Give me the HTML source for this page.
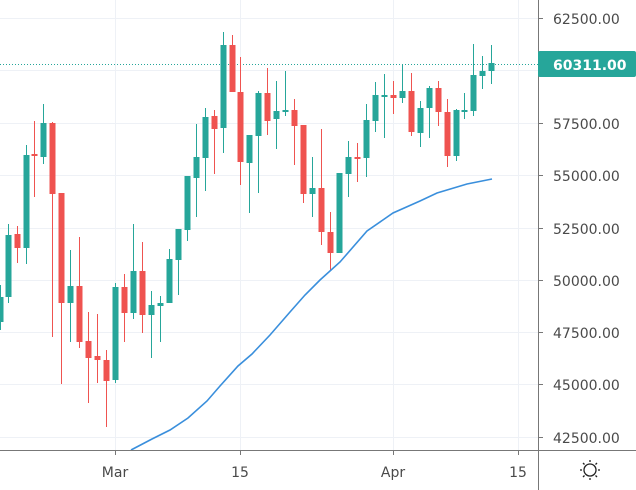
<!DOCTYPE html>
<html><head><meta charset="utf-8"><style>
html,body{margin:0;padding:0;background:#fff;}
svg{display:block;}
text{font-family:"DejaVu Sans","Liberation Sans",sans-serif;font-size:14px;fill:#4a4a4a;}
</style></head><body>
<svg width="636" height="490" viewBox="0 0 636 490" xmlns="http://www.w3.org/2000/svg">
<g stroke="#eef1f6" stroke-width="1">
<line x1="0" y1="18.5" x2="538" y2="18.5"/>
<line x1="0" y1="70.5" x2="538" y2="70.5"/>
<line x1="0" y1="123.5" x2="538" y2="123.5"/>
<line x1="0" y1="175.5" x2="538" y2="175.5"/>
<line x1="0" y1="228.5" x2="538" y2="228.5"/>
<line x1="0" y1="280.5" x2="538" y2="280.5"/>
<line x1="0" y1="332.5" x2="538" y2="332.5"/>
<line x1="0" y1="384.5" x2="538" y2="384.5"/>
<line x1="0" y1="437.5" x2="538" y2="437.5"/>
<line x1="115.5" y1="0" x2="115.5" y2="450"/>
<line x1="240.5" y1="0" x2="240.5" y2="450"/>
<line x1="393.5" y1="0" x2="393.5" y2="450"/>
<line x1="518.5" y1="0" x2="518.5" y2="450"/>
</g>
<line x1="0" y1="64.5" x2="538" y2="64.5" stroke="#26a69a" stroke-width="1" stroke-dasharray="1,2"/>
<g id="c"></g>
<polyline fill="none" stroke="#3a8fdc" stroke-width="1.6" points="131,450 152,439 170,430 188,418 207,401 220,386 238,366 252,354 270,335 290,312 305,295 320,280 340,262 367,231 393,213 420,201 437,193 467,184 492,179"/>
<line x1="538.5" y1="0" x2="538.5" y2="490" stroke="#777" stroke-width="1"/>
<line x1="0" y1="450.5" x2="636" y2="450.5" stroke="#777" stroke-width="1"/>
<g stroke="#777">
<line x1="538" y1="18.5" x2="543" y2="18.5"/><line x1="538" y1="123.5" x2="543" y2="123.5"/>
<line x1="538" y1="175.5" x2="543" y2="175.5"/><line x1="538" y1="228.5" x2="543" y2="228.5"/>
<line x1="538" y1="280.5" x2="543" y2="280.5"/><line x1="538" y1="332.5" x2="543" y2="332.5"/>
<line x1="538" y1="384.5" x2="543" y2="384.5"/><line x1="538" y1="437.5" x2="543" y2="437.5"/>
<line x1="115.5" y1="450" x2="115.5" y2="455"/><line x1="240.5" y1="450" x2="240.5" y2="455"/>
<line x1="393.5" y1="450" x2="393.5" y2="455"/><line x1="518.5" y1="450" x2="518.5" y2="455"/>
</g>
<g>
<text x="553" y="24">62500.00</text>
<text x="553" y="129">57500.00</text>
<text x="553" y="181">55000.00</text>
<text x="553" y="234">52500.00</text>
<text x="553" y="286">50000.00</text>
<text x="553" y="338">47500.00</text>
<text x="553" y="390">45000.00</text>
<text x="553" y="443">42500.00</text>
</g>
<rect x="538" y="51" width="98" height="26" rx="2" fill="#26a69a"/>
<text x="553" y="70" style="fill:#fff;font-weight:bold">60311.00</text>
<g text-anchor="middle">
<text x="115" y="477">Mar</text>
<text x="240" y="477">15</text>
<text x="393" y="477">Apr</text>
<text x="518" y="477">15</text>
</g>
<g stroke="#222" stroke-width="1.3" fill="none">
<circle cx="590" cy="470" r="6"/>
<line x1="590" y1="460" x2="590" y2="462"/><line x1="590" y1="478" x2="590" y2="480"/>
<line x1="580" y1="470" x2="582" y2="470"/><line x1="598" y1="470" x2="600" y2="470"/>
<line x1="583" y1="463" x2="584.5" y2="464.5"/><line x1="597" y1="463" x2="595.5" y2="464.5"/>
<line x1="583" y1="477" x2="584.5" y2="475.5"/><line x1="597" y1="477" x2="595.5" y2="475.5"/>
</g>
</svg>
<script>
var d=[
[0,297,322,285,330,'g'],[8,235,297,224,303,'g'],[17,234,248,226,263,'r'],[26,155,248,145,264,'g'],
[34,154,156,121,197,'r'],[43,123,157,104,164,'g'],[52,123,194,122,337,'r'],[61,193,303,193,384,'r'],
[70,286,303,250,342,'g'],[79,286,342,237,348,'r'],[88,341,358,312,403,'r'],[97,356,360,314,383,'r'],
[106,360,381,350,427,'r'],[115,287,380,283,383,'g'],[124,287,313,274,342,'r'],[133,271,313,224,319,'g'],
[142,271,315,242,333,'r'],[151,305,315,291,358,'g'],[160,303,306,296,342,'g'],[169,259,303,249,303,'g'],
[178,229,260,229,295,'g'],[187,176,230,176,241,'g'],[196,157,178,124,217,'g'],[205,117,158,108,191,'g'],
[214,116,129,110,174,'r'],[223,45,128,32,153,'g'],[232,45,92,35,92,'r'],[240,92,162,57,185,'r'],
[249,135,163,135,213,'g'],[258,93,136,91,193,'g'],[267,93,121,68,135,'r'],[276,111,119,81,149,'g'],
[285,110,112,71,116,'g'],[294,110,126,99,165,'r'],[303,125,194,125,203,'r'],[312,188,194,157,217,'g'],
[321,188,232,129,245,'r'],[330,232,253,212,271,'r'],[339,173,253,173,253,'g'],[348,157,174,141,197,'g'],
[357,157,159,143,182,'r'],[366,120,158,104,177,'g'],[375,95,121,82,132,'g'],[384,95,97,74,138,'g'],
[393,95,98,81,114,'r'],[402,91,98,65,103,'g'],[411,91,132,73,136,'r'],[420,108,133,101,147,'g'],
[429,88,108,86,138,'g'],[438,88,112,81,126,'r'],[447,112,156,99,167,'r'],[456,110,156,109,161,'g'],
[464,110,111,93,119,'g'],[473,75,111,44,116,'g'],[482,71,76,56,89,'g'],[491,63,71,45,84,'g']];
var s='';
d.forEach(function(c){var col=c[5]=='g'?'#26a69a':'#ef5350';
s+='<line x1="'+(c[0]+.5)+'" y1="'+c[3]+'" x2="'+(c[0]+.5)+'" y2="'+c[4]+'" stroke="'+col+'" stroke-width="1"/>';
s+='<rect x="'+(c[0]-2.5)+'" y="'+c[1]+'" width="6" height="'+Math.max(2,c[2]-c[1])+'" fill="'+col+'"/>';});
document.getElementById('c').innerHTML=s;
</script>
</body></html>
